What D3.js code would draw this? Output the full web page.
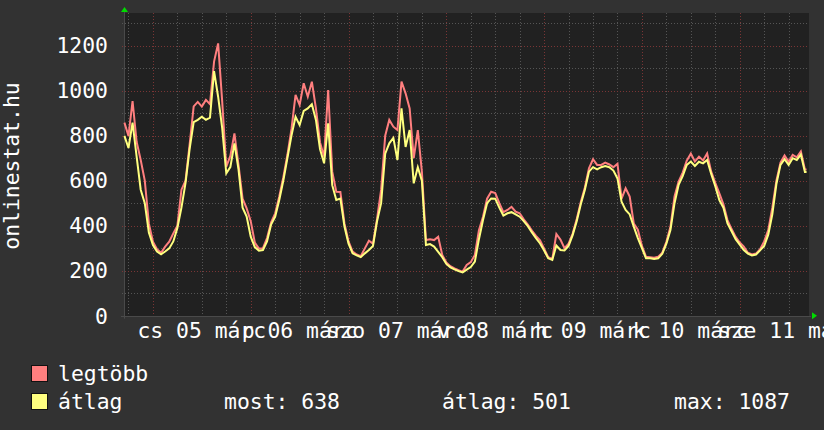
<!DOCTYPE html>
<html><head><meta charset="utf-8">
<script src="https://cdn.jsdelivr.net/npm/d3@7"></script>
<style>html,body{margin:0;padding:0;background:#313131;}svg{display:block;}</style>
</head><body>
<svg id="c" width="824" height="430"></svg>
<script>
// ---- data (hours relative to 2009-03-05 00:00) ----
const hours = d3.range(-7, 161);
const dataEndHour = 160.4;
const avgValues = [
 799,745,858,707,560,500,370,
 314,285,273,285,299,330,390,480,590,740,860,870,884,870,880,1087,973,833,633,660,766,650,480,440,
 351,305,289,292,330,405,440,514,600,700,800,884,847,910,921,940,870,740,677,855,580,514,520,396,
 320,277,268,260,277,292,310,420,500,720,766,790,692,921,750,825,588,660,600,314,318,307,284,260,
 230,215,206,198,192,205,216,240,340,425,500,521,520,480,445,455,460,450,440,420,398,370,345,321,
 290,255,248,312,292,290,310,358,420,495,560,640,660,650,660,665,660,645,610,507,470,450,396,345,
 300,255,255,252,255,275,320,381,500,581,620,670,685,665,684,677,692,630,575,514,480,410,375,340,
 316,292,276,268,272,290,310,360,450,585,670,695,670,700,692,716,638
];
const maxValues = [
 858,799,954,773,692,600,410,
 329,295,280,307,329,366,400,560,600,760,930,950,929,959,940,1129,1210,951,662,710,810,670,520,477,
 420,325,298,300,345,415,455,530,615,715,830,981,936,1033,973,1040,921,770,707,1003,640,551,550,410,
 330,285,272,264,299,333,320,430,560,800,870,840,825,1040,988,921,700,825,640,336,340,336,351,270,
 236,220,210,202,196,225,238,270,380,440,520,551,545,500,460,470,484,462,455,428,405,378,355,335,
 298,260,252,363,338,300,320,365,430,505,570,655,695,670,670,680,672,660,675,520,566,529,410,382,
 310,262,260,258,262,280,328,395,530,596,636,689,720,685,707,690,721,640,590,544,495,425,385,350,
 325,307,280,272,276,295,330,380,480,600,680,712,684,715,704,730,650
];
const yTickValues = [0,200,400,600,800,1000,1200];
const yMinorValues = [100,300,500,700,900,1100,1300];
const dayNames = ["v","h","k","sze","cs","p","szo"];
const monthNames = ["jan","febr","márc","ápr","máj","jún","júl","aug","szept","okt","nov","dec"];
const yTitle = "onlinestat.hu";
const seriesNames = ["legtöbb","átlag"];
const summary = [["most",638],["átlag",501],["max",1087]];

// ---- styles ----
const FONT = "'DejaVu Sans Mono', monospace";
const FS = 21.4;
const COL_MAX = "#ff7f7f", COL_AVG = "#ffff7f";
const base = new Date(2009, 2, 5, 0, 0, 0);
const T = h => new Date(base.getTime() + h * 3600e3);

const svg = d3.select("#c");
const L = 124, R = 809, TOP = 13, BOT = 315.7;

const x = d3.scaleTime().domain([T(-7.1), T(161)]).range([L, R]);
const y = d3.scaleLinear().domain([0, 1345]).range([BOT, TOP]);

svg.append("rect").attr("width",824).attr("height",430).attr("fill","#323232");
svg.append("rect").attr("x",L).attr("y",TOP).attr("width",R-L).attr("height",BOT-TOP+1).attr("fill","#212121");

const grid = svg.append("g");
const t6 = d3.timeHour.every(6).range(T(-7.1), T(161));
t6.forEach(t => {
  const major = t.getHours() === 0;
  const xx = Math.round(x(t)) + 0.5;
  grid.append("line").attr("x1",xx).attr("x2",xx).attr("y1",TOP).attr("y2",BOT+3)
    .attr("stroke", major ? "#7a3535" : "#555").attr("stroke-width",1)
    .attr("stroke-dasharray","1,2");
});
yMinorValues.forEach(v => {
  const yy = Math.round(y(v)) + 0.5;
  grid.append("line").attr("x1",L-2).attr("x2",R).attr("y1",yy).attr("y2",yy)
    .attr("stroke","#555").attr("stroke-dasharray","1,2");
});
yTickValues.filter(v=>v>0).forEach(v => {
  const yy = Math.round(y(v)) + 0.5;
  grid.append("line").attr("x1",L-2).attr("x2",R).attr("y1",yy).attr("y2",yy)
    .attr("stroke","#7a3535").attr("stroke-dasharray","1,2");
});
svg.append("line").attr("x1",L-3).attr("x2",R+2).attr("y1",Math.round(BOT)+0.5).attr("y2",Math.round(BOT)+0.5).attr("stroke","#4a4a4a");
svg.append("line").attr("x1",L+0.5).attr("x2",L+0.5).attr("y1",TOP-2).attr("y2",BOT+3).attr("stroke","#4a4a4a");
svg.append("path").attr("d",`M${L-3},${TOP-1} L${L+4},${TOP-1} L${L+0.5},${TOP-6} Z`).attr("fill","#00dd00");
svg.append("path").attr("d",`M${R+3},${BOT-3.5} L${R+3},${BOT+3.5} L${R+8},${BOT} Z`).attr("fill","#00dd00");

const mk = vals => {
  const pts = hours.map((h,i)=>({t:T(h), v:vals[i]}));
  pts.push({t:T(dataEndHour), v:vals[vals.length-1]});
  return pts;
};
const line = d3.line().x(d=>x(d.t)).y(d=>y(d.v)).curve(d3.curveLinear);
svg.append("path").datum(mk(maxValues)).attr("d",line).attr("fill","none").attr("stroke",COL_MAX).attr("stroke-width",2).attr("stroke-linejoin","miter");
svg.append("path").datum(mk(avgValues)).attr("d",line).attr("fill","none").attr("stroke",COL_AVG).attr("stroke-width",2).attr("stroke-linejoin","miter");

const txt = svg.append("g").attr("font-family",FONT).attr("font-size",FS).attr("fill","#ffffff");
yTickValues.forEach(v => {
  txt.append("text").attr("x",108).attr("y",y(v)+7.8).attr("text-anchor","end").text(v);
});
d3.timeDay.range(T(-7.1), T(161)).forEach(d => {
  const noon = new Date(d.getTime() + 12*3600e3);
  if (noon < T(-7.1) || noon > T(161)) return;
  const lbl = `${dayNames[d.getDay()]} ${d3.timeFormat("%d")(d)} ${monthNames[d.getMonth()]}`;
  txt.append("text").attr("x",x(noon)).attr("y",337.5).attr("text-anchor","middle").text(lbl);
});
txt.append("text").attr("transform","translate(19,166) rotate(-90)").attr("text-anchor","middle").text(yTitle);

[[COL_MAX,366,381],[COL_AVG,394,408.5]].forEach((c,i) => {
  svg.append("rect").attr("x",31.5).attr("y",c[1]-0.5).attr("width",16).attr("height",16)
    .attr("fill",c[0]).attr("stroke","#111").attr("stroke-width",1);
  txt.append("text").attr("x",58).attr("y",c[2]).text(seriesNames[i]);
});
const sx = [224, 442, 674];
summary.forEach((s,i) => {
  txt.append("text").attr("x",sx[i]).attr("y",408.5).text(`${s[0]}: ${s[1]}`);
});
</script>
</body></html>
